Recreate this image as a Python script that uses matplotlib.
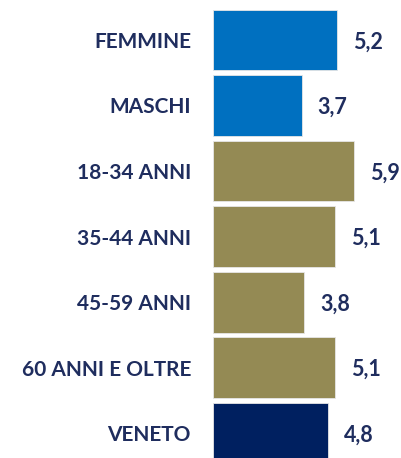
import matplotlib
matplotlib.use('Agg')
import matplotlib.pyplot as plt

categories = ["FEMMINE", "MASCHI", "18-34 ANNI", "35-44 ANNI",
              "45-59 ANNI", "60 ANNI E OLTRE", "VENETO"]
values = [5.2, 3.7, 5.9, 5.1, 3.8, 5.1, 4.8]
value_labels = ["5,2", "3,7", "5,9", "5,1", "3,8", "5,1", "4,8"]
colors = ["#0070C0", "#0070C0", "#948A54", "#948A54",
          "#948A54", "#948A54", "#002060"]

text_color = "#1F2D5E"

fig = plt.figure(figsize=(4.02, 4.58), dpi=100)
ax = fig.add_axes([213.5 / 402, 0, 190.4 / 402, 1])

ypos = list(range(len(categories)))
ax.barh(ypos, values, height=0.93, color=colors,
        edgecolor="#e6e6e6", linewidth=0.6)

ax.set_xlim(0, 8)
ax.set_ylim(6.38, -0.61)
ax.axis("off")

for y, cat, v, lab in zip(ypos, categories, values, value_labels):
    ax.text(-0.95, y, cat, ha="right", va="center_baseline",
            fontsize=15, fontweight="bold", color=text_color,
            family="Lato")
    ax.text(v + 0.67, y, lab, ha="left", va="center_baseline",
            fontsize=15.5, fontweight="bold", color=text_color,
            family="Lato")

fig.savefig("out.png", dpi=100)
